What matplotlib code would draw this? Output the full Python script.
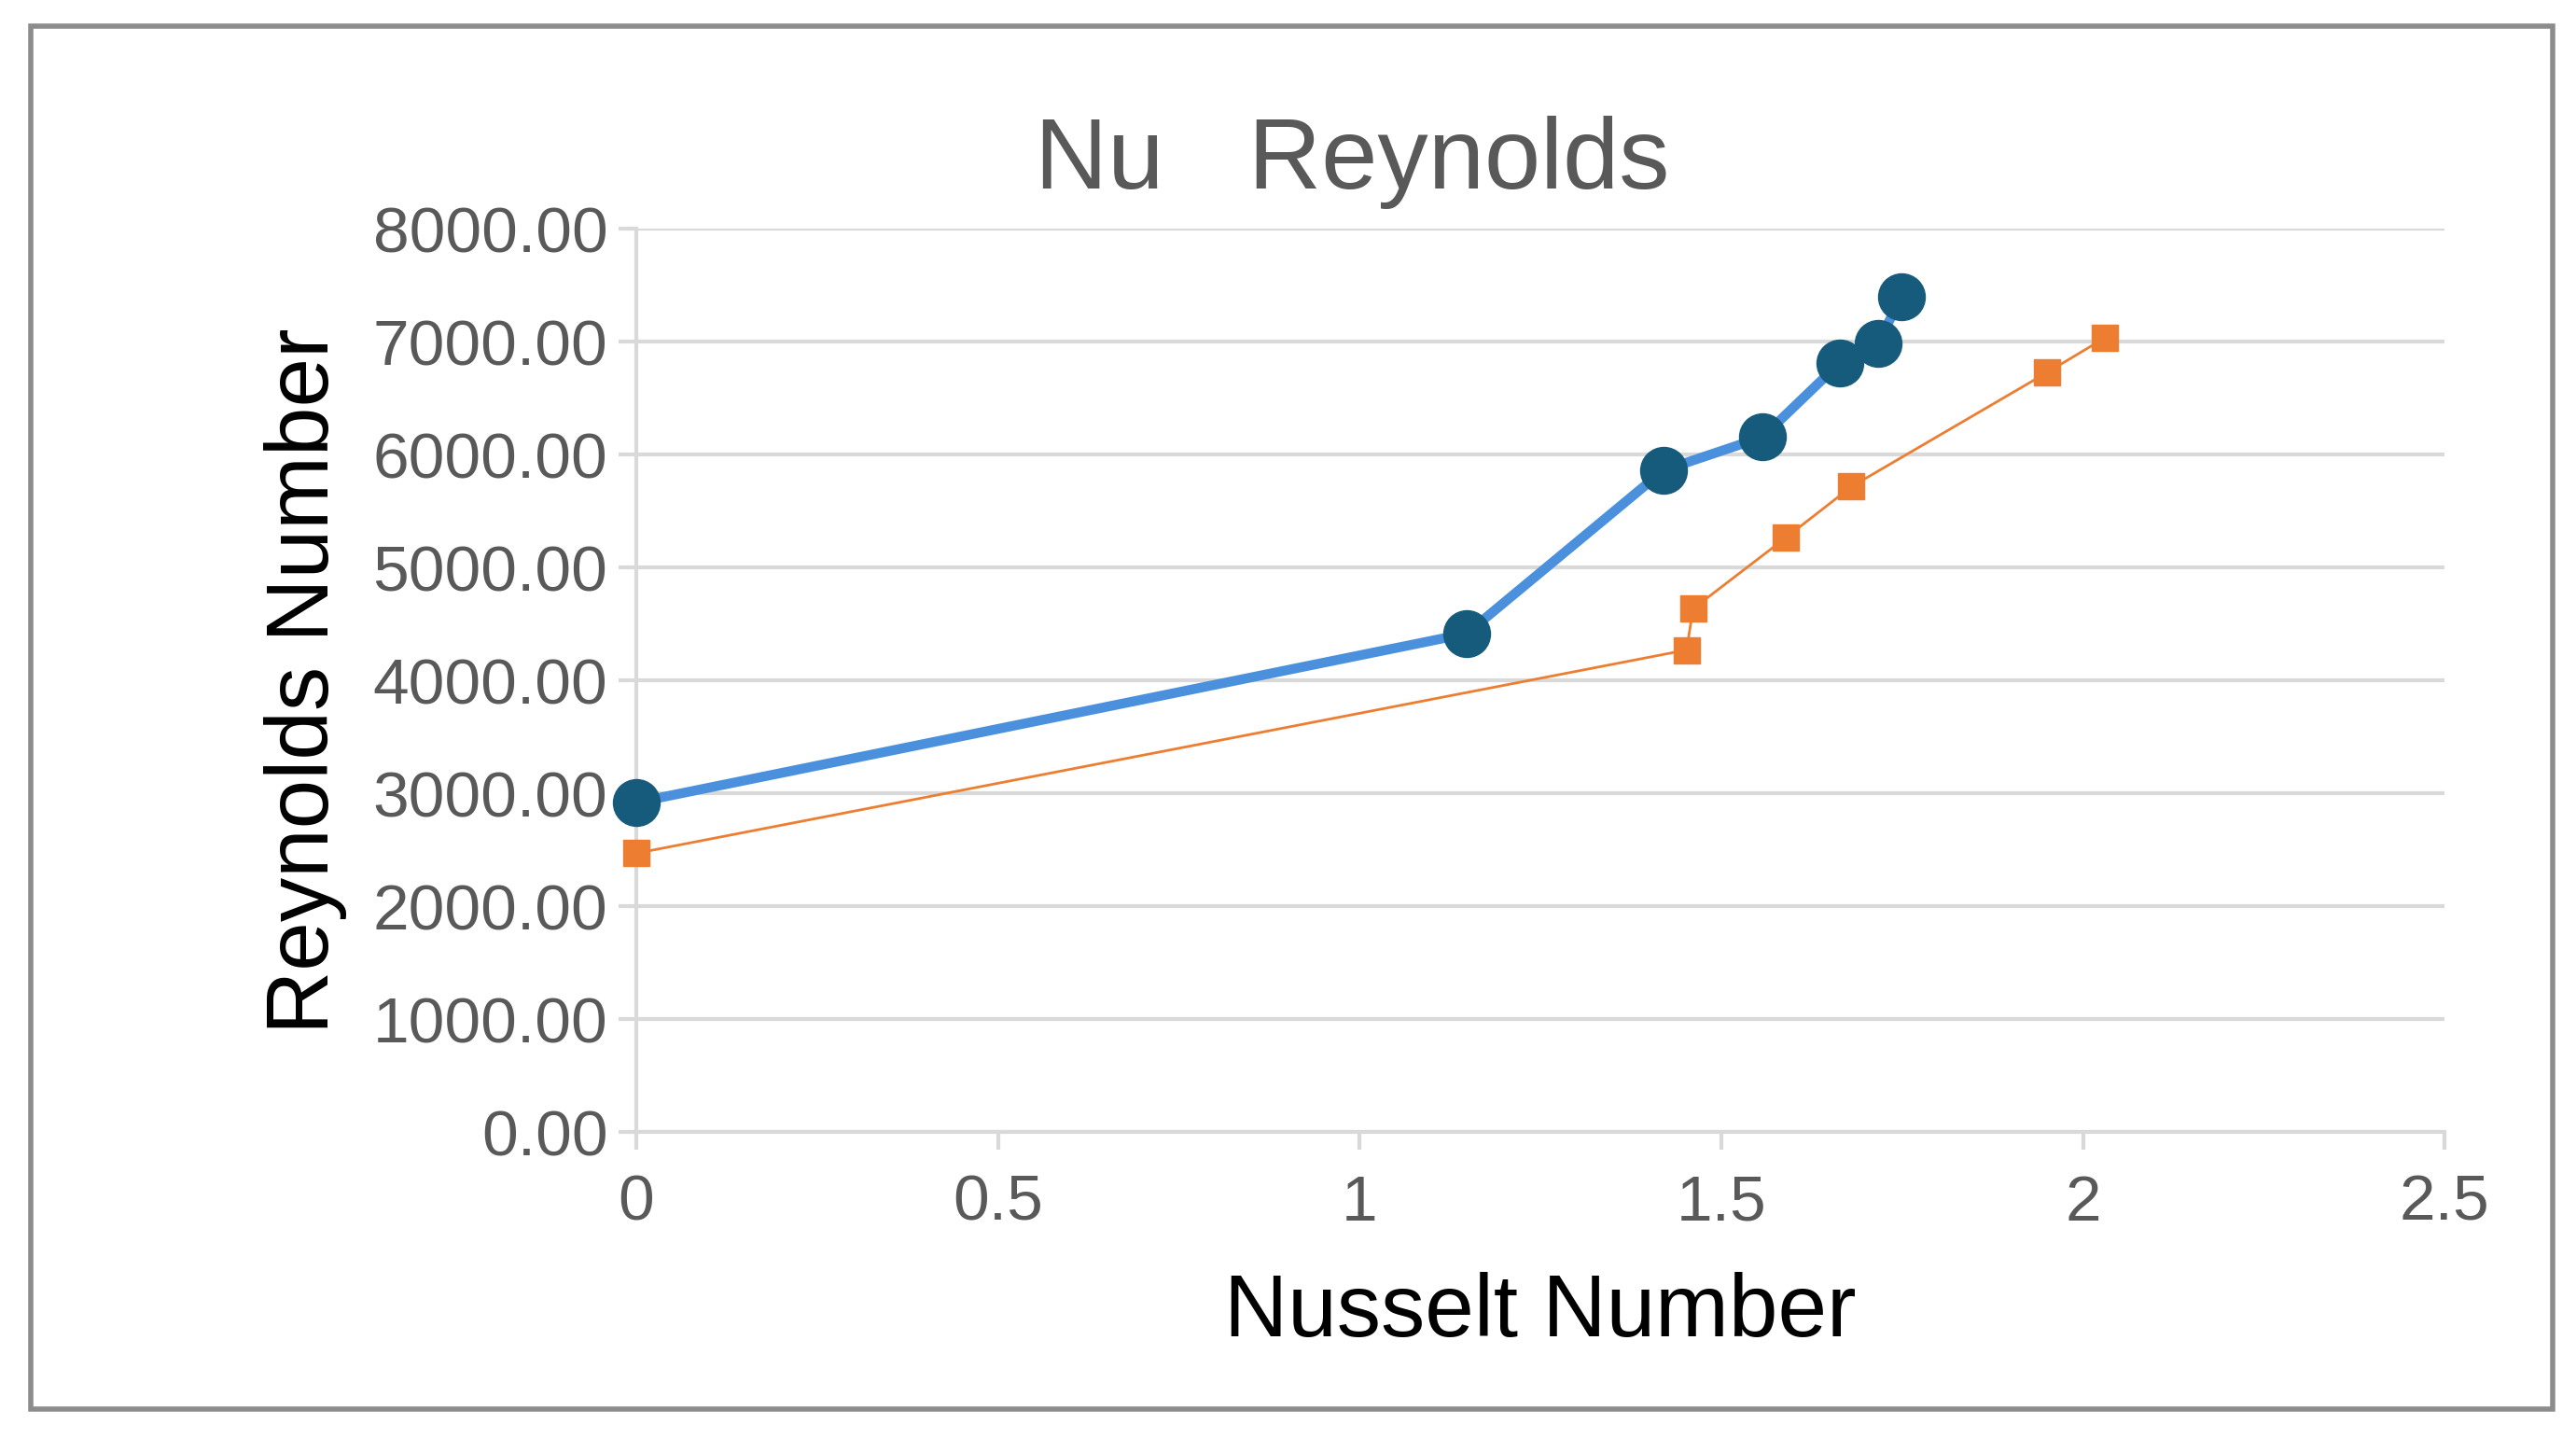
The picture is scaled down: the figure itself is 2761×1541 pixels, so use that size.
import matplotlib
matplotlib.use("Agg")
import matplotlib.pyplot as plt
from matplotlib.patches import Rectangle

nu_a = [0, 1.148, 1.42, 1.557, 1.664, 1.717, 1.749]
re_a = [2920, 4415, 5860, 6155, 6813, 6988, 7398]
nu_b = [0, 1.452, 1.461, 1.589, 1.680, 1.950, 2.030]
re_b = [2470, 4270, 4635, 5263, 5716, 6725, 7032]
xticks = [0, 0.5, 1, 1.5, 2, 2.5]
xticklabels = ["0", "0.5", "1", "1.5", "2", "2.5"]
yticks = [0, 1000, 2000, 3000, 4000, 5000, 6000, 7000, 8000]

plt.rcParams['font.family'] = ['Liberation Sans', 'DejaVu Sans']
fig = plt.figure(figsize=(27.61, 15.41), dpi=100)
fig.patches.append(Rectangle((0.012, 0.02), 0.979, 0.962, transform=fig.transFigure,
                             fill=False, edgecolor='#8c8c8c', linewidth=4))
ax = fig.add_axes([0.247, 0.2126, 0.702, 0.6284])
ax.plot(nu_a, re_a, color='#4a90dd', linewidth=7.5, marker='o', markersize=36,
        markerfacecolor='#175b7c', markeredgecolor='#175b7c', zorder=3, clip_on=False)
ax.plot(nu_b, re_b, color='#ed7d31', linewidth=2, marker='s', markersize=20,
        markerfacecolor='#ed7d31', markeredgecolor='#ed7d31', zorder=4, clip_on=False)
ax.set_xlim(0, 2.5)
ax.set_ylim(0, 8000)
ax.set_xticks(xticks)
ax.set_xticklabels(xticklabels)
ax.set_yticks(yticks)
ax.set_yticklabels([f"{v:.2f}" for v in yticks])
ax.grid(axis='y', color='#d9d9d9', linewidth=3)
ax.set_axisbelow(True)
for s in ['top', 'right']:
    ax.spines[s].set_visible(False)
for s in ['left', 'bottom']:
    ax.spines[s].set_color('#d9d9d9')
    ax.spines[s].set_linewidth(3)
ax.tick_params(axis='x', colors='#d9d9d9', length=14, width=3, labelcolor='#595959',
               labelsize=50, pad=18)
ax.tick_params(axis='y', colors='#d9d9d9', length=14, width=3, labelcolor='#595959',
               labelsize=50, pad=8)
ax.set_xlabel("Nusselt Number", fontsize=68, color='black', labelpad=30)
ax.set_ylabel("Reynolds Number", fontsize=68, color='black', labelpad=20)
fig.text(0.525, 0.887, "Nu   Reynolds", fontsize=78, color='#595959', ha='center', va='center')
fig.savefig("out.png", dpi=100)
